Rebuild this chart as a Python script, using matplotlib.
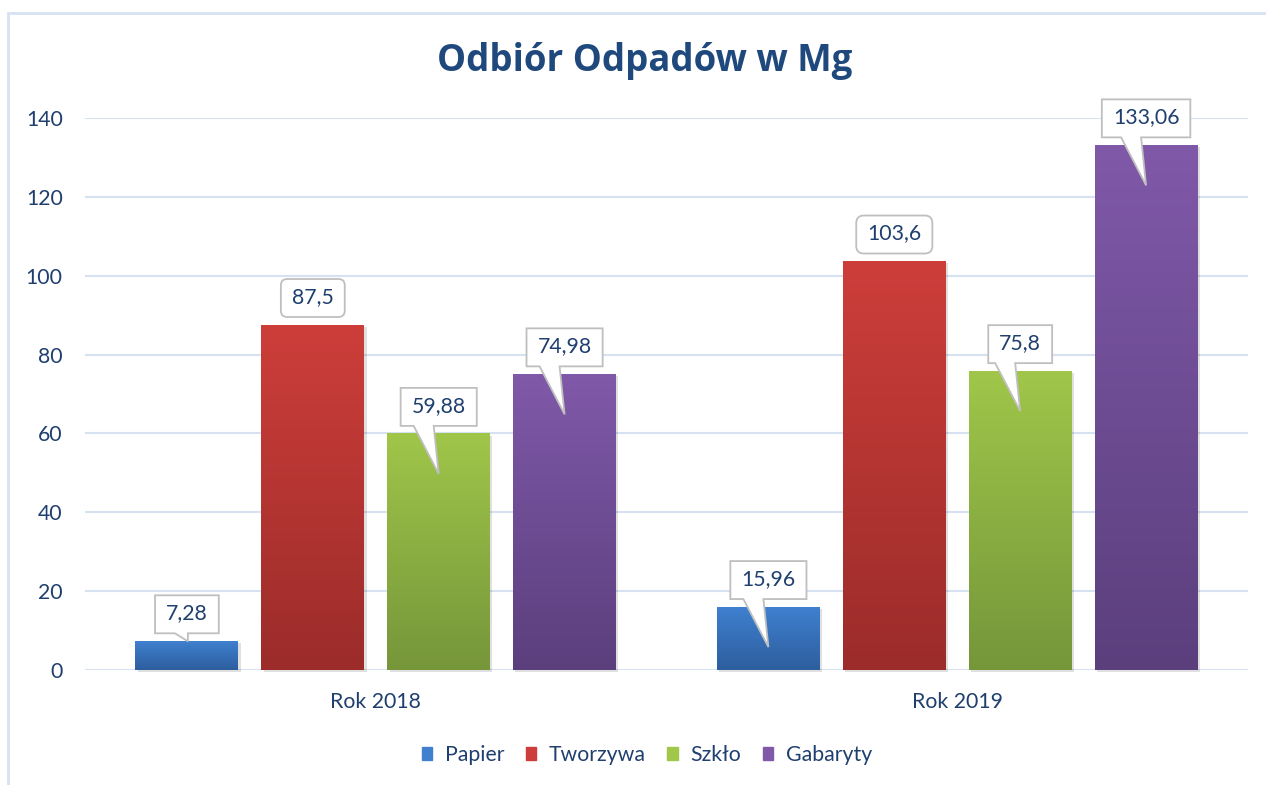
import numpy as np
import matplotlib
matplotlib.use("Agg")
import matplotlib.pyplot as plt
from matplotlib.colors import LinearSegmentedColormap
from matplotlib.patches import Rectangle, Polygon, FancyBboxPatch

plt.rcParams['font.family'] = ['Lato', 'DejaVu Sans']

# Dane
lata = ["Rok 2018", "Rok 2019"]
serie = ["Papier", "Tworzywa", "Szkło", "Gabaryty"]
papier = [7.28, 15.96]
tworzywa = [87.5, 103.6]
szklo = [59.88, 75.8]
gabaryty = [74.98, 133.06]
etykiety = [["7,28", "15,96"], ["87,5", "103,6"], ["59,88", "75,8"], ["74,98", "133,06"]]
wartosci = [papier, tworzywa, szklo, gabaryty]

# Kolory (góra, dół) gradientu
kolory = [("#3f80cf", "#2d5e9e"), ("#cd3e3a", "#9b2c2a"),
          ("#a0c64a", "#76963a"), ("#8059a9", "#5b3f7d")]
# dymki bez "ogonka" (zaokrąglone)
bez_ogonka = {"Tworzywa"}

TXT = "#1F3F6E"
GRID = "#d6e2f2"
RAMKA = "#bfbfbf"
FS = 15.3

fig = plt.figure(figsize=(12.66, 7.85), dpi=100)
ax = fig.add_axes([85 / 1266, 1 - 670 / 785, (1248 - 85) / 1266, (670 - 118) / 785])

x = np.arange(len(lata))
krok = 0.2165
szer = 0.177

ax.set_xlim(-0.5, 1.5)
ax.set_ylim(0, 140)

teksty = []
for i, (nazwa, vals) in enumerate(zip(serie, wartosci)):
    top, bot = kolory[i]
    pos = x + (i - 1.5) * krok
    # cień
    ax.bar(pos + 0.004, vals, szer, bottom=-0.5, color="#000000", alpha=0.12,
           zorder=1.5, clip_on=False)
    bars = ax.bar(pos, vals, szer, color=top, label=nazwa, zorder=2)
    cmap = LinearSegmentedColormap.from_list("g%d" % i, [bot, top])
    grad = np.linspace(0, 1, 256).reshape(-1, 1)
    for b in bars:
        ax.imshow(grad, extent=[b.get_x(), b.get_x() + b.get_width(), 0, b.get_height()],
                  origin="lower", cmap=cmap, aspect="auto", zorder=2.1)
        b.set_edgecolor("none")

    for j, (xp, v) in enumerate(zip(pos, vals)):
        t = ax.text(xp, v, etykiety[i][j], ha="center", va="center",
                    fontsize=FS, color=TXT, zorder=7)
        teksty.append((t, xp, v, nazwa in bez_ogonka))

ax.set_xlim(-0.5, 1.5)
ax.set_ylim(0, 140)

# dymki z etykietami - geometria w pikselach
fig.canvas.draw()
r = fig.canvas.get_renderer()
inv = ax.transData.inverted()
for t, xp, v, okragly in teksty:
    px, py = ax.transData.transform((xp, v))
    cy = py + 27
    t.set_position(tuple(inv.transform((px, cy + 1))))
    w = t.get_window_extent(r).width + 22
    h = 38
    x0, x1 = px - w / 2, px + w / 2
    y0, y1 = cy - h / 2, cy + h / 2
    if okragly:
        (dx0, dy0), (dx1, dy1) = inv.transform([(x0, y0), (x1, y1)])
        ax.add_patch(FancyBboxPatch((dx0, dy0), dx1 - dx0, dy1 - dy0,
                                    boxstyle="round,pad=0,rounding_size=%f" % ((dx1 - dx0) * 0.1),
                                    mutation_aspect=(dy1 - dy0) / (dx1 - dx0) * w / h,
                                    fc="white", ec=RAMKA, lw=1.3, zorder=6, clip_on=False))
        continue
    if v < 10:
        pts = [(x0, y1), (x1, y1), (x1, y0), (px + 1, y0), (px + 1, py), (px - 12, y0), (x0, y0)]
    else:
        pts = [(x0, y1), (x1, y1), (x1, y0), (px - 5, y0), (px, py - 40), (px - 25, y0), (x0, y0)]
    ax.add_patch(Polygon(inv.transform(pts), closed=True, fc="white", ec=RAMKA,
                         lw=1.3, zorder=6, joinstyle="miter", clip_on=False))

ax.set_yticks(range(0, 141, 20))
ax.set_xticks(x)
ax.set_xticklabels(lata)
ax.grid(axis="y", color=GRID, lw=1.5, zorder=0)
ax.set_axisbelow(True)
for s in ax.spines.values():
    s.set_visible(False)
ax.tick_params(axis="both", length=0, labelsize=FS, labelcolor=TXT)
ax.tick_params(axis="y", pad=16)
ax.tick_params(axis="x", pad=16)

fig.text(0.509, 1 - 61 / 785, "Odbiór Odpadów w Mg", ha="center", va="center",
         fontsize=26.4, fontweight="bold", color="#1F497D", family=["Open Sans", "DejaVu Sans"])

fig.legend(handles=[Rectangle((0, 0), 1, 1, color=kolory[k][0]) for k in range(4)],
           labels=serie, loc="center", bbox_to_anchor=(0.511, 1 - 755 / 785),
           ncol=4, frameon=False, fontsize=FS, handlelength=0.5, handleheight=0.5,
           handletextpad=0.6, columnspacing=1.0, labelcolor=TXT)

# ramka wykresu
fig.patches.append(Rectangle((8 / 1266, -0.05), 1.1, 1 - 13 / 785 + 0.05,
                             transform=fig.transFigure, fill=False, ec=GRID, lw=2))

fig.savefig("out.png", dpi=100)
